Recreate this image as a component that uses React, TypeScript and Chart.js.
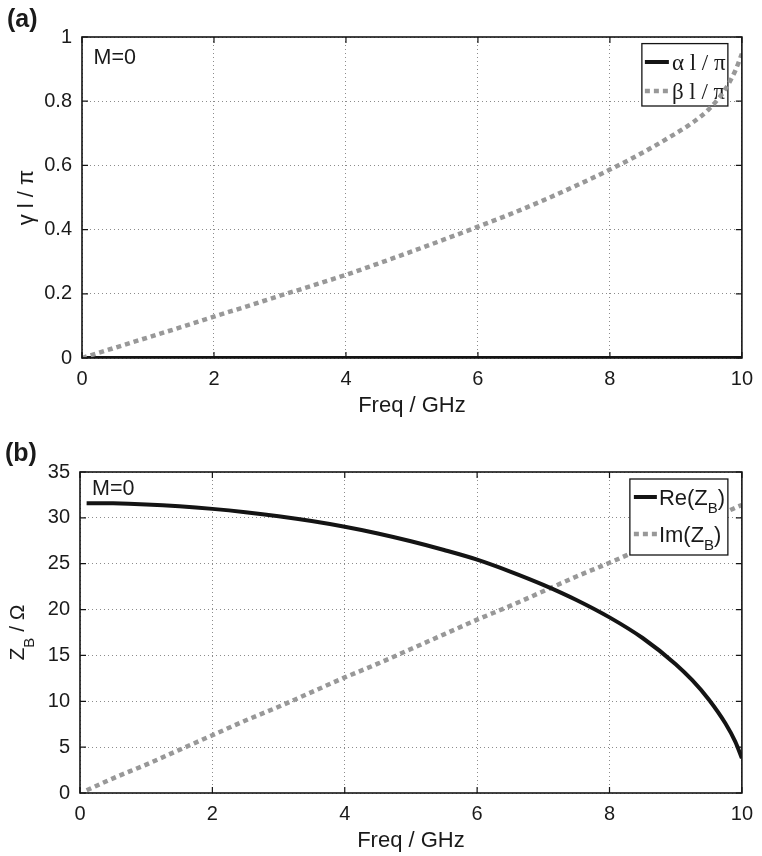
import React, { useEffect, useRef } from "react";
import { Chart, registerables } from "chart.js";
Chart.register(...registerables);

// ---------- data ----------
const freqA = [0, 0.5, 1, 1.5, 2, 2.5, 3, 3.5, 4, 4.5, 5, 5.5, 6, 6.5, 7, 7.5, 8, 8.5, 9, 9.25, 9.5, 9.75, 9.9, 10];
const alphaA = [0, 0, 0, 0, 0, 0, 0, 0, 0, 0, 0, 0, 0, 0, 0, 0, 0, 0, 0, 0, 0, 0, 0, 0];
const betaA = [0, 0.032, 0.064, 0.096, 0.129, 0.161, 0.194, 0.226, 0.259, 0.295, 0.332, 0.37, 0.409, 0.449, 0.492, 0.538, 0.587, 0.64, 0.7, 0.733, 0.775, 0.838, 0.895, 0.948];

const freqB = [0.1, 0.5, 1, 1.5, 2, 2.5, 3, 3.5, 4, 4.5, 5, 5.5, 6, 6.5, 7, 7.5, 8, 8.5, 9, 9.25, 9.5, 9.75, 9.9, 10];
const reZB = [31.6, 31.58, 31.46, 31.26, 30.98, 30.62, 30.18, 29.65, 29.03, 28.3, 27.45, 26.5, 25.45, 24.15, 22.7, 21.05, 19.15, 16.9, 14.05, 12.3, 10.2, 7.6, 5.6, 3.8];
const imZB = [0.3, 1.6, 3.1, 4.7, 6.3, 7.9, 9.4, 11.0, 12.6, 14.1, 15.7, 17.3, 18.9, 20.4, 22.0, 23.6, 25.1, 26.7, 28.3, 29.0, 29.8, 30.6, 31.1, 31.4];

const xTicks = [0, 2, 4, 6, 8, 10];
const yTicksA = [0, 0.2, 0.4, 0.6, 0.8, 1];
const yTicksB = [0, 5, 10, 15, 20, 25, 30, 35];

const SANS = '"Liberation Sans", Arial, Helvetica, sans-serif';
const SERIF = '"Liberation Serif", "Times New Roman", serif';
const BLACK = "#141414";
const GRAY = "#989898";

type Seg = { t: string; sub?: boolean };

function segWidth(ctx: CanvasRenderingContext2D, segs: Seg[], size: number, sub: number, fam: string) {
  let w = 0;
  for (const s of segs) {
    ctx.font = `${s.sub ? sub : size}px ${fam}`;
    w += ctx.measureText(s.t).width;
  }
  return w;
}
function drawSegs(ctx: CanvasRenderingContext2D, segs: Seg[], x: number, y: number, size: number, sub: number, drop: number, fam: string) {
  let cx = x;
  ctx.textBaseline = "alphabetic";
  ctx.textAlign = "left";
  for (const s of segs) {
    ctx.font = `${s.sub ? sub : size}px ${fam}`;
    ctx.fillText(s.t, cx, y + (s.sub ? drop : 0));
    cx += ctx.measureText(s.t).width;
  }
}

interface Decor {
  panel: string;
  panelY: number;
  panelX: number;
  mY: number;
  mX: number;
  yTitle: Seg[];
  yTitleX: number;
  yTitleSize: number;
  yTitleDrop: number;
  xTicksV: number[];
  yTicksV: number[];
  legendAbove: boolean;
  legend: {
    box: [number, number, number, number];
    rows: { y: number; dashed: boolean; segs: Seg[] }[];
    sampleL: number;
    sampleR: number;
    textX: number;
    fam: string;
    size: number;
    sub: number;
    drop: number;
  };
}

function makePlugin(d: Decor) {
  const drawLegend = (chart: any) => {
    const { ctx, chartArea: a } = chart;
    const L = d.legend;
    const bx = a.right - L.box[0];
    const bw = L.box[0] - L.box[1];
    const by = a.top + L.box[2];
    const bh = L.box[3] - L.box[2];
    ctx.save();
    ctx.fillStyle = "#ffffff";
    ctx.fillRect(bx, by, bw, bh);
    ctx.strokeStyle = BLACK;
    ctx.lineWidth = 1.3;
    ctx.strokeRect(bx, by, bw, bh);
    for (const r of L.rows) {
      const ry = a.top + r.y;
      ctx.beginPath();
      ctx.moveTo(a.right - L.sampleL, ry);
      ctx.lineTo(a.right - L.sampleR, ry);
      if (r.dashed) {
        ctx.strokeStyle = GRAY;
        ctx.lineWidth = 4.5;
        ctx.setLineDash([5, 4]);
      } else {
        ctx.strokeStyle = BLACK;
        ctx.lineWidth = 4;
        ctx.setLineDash([]);
      }
      ctx.stroke();
      ctx.setLineDash([]);
      ctx.fillStyle = "#1a1a1a";
      drawSegs(ctx, r.segs, a.right - L.textX, ry + 0.36 * L.size, L.size, L.sub, L.drop, L.fam);
    }
    ctx.restore();
  };
  return {
    id: "decor" + d.panel,
    beforeDatasetsDraw(chart: any) {
      if (!d.legendAbove) drawLegend(chart);
    },
    afterDatasetsDraw(chart: any) {
      if (d.legendAbove) drawLegend(chart);
    },
    afterDraw(chart: any) {
      const { ctx, chartArea: a } = chart;
      const xs = chart.scales.x;
      const ys = chart.scales.y;
      ctx.save();
      ctx.strokeStyle = BLACK;
      ctx.lineWidth = 1.2;
      ctx.beginPath();
      for (const v of d.xTicksV) {
        const px = xs.getPixelForValue(v);
        ctx.moveTo(px, a.bottom);
        ctx.lineTo(px, a.bottom - 6);
        ctx.moveTo(px, a.top);
        ctx.lineTo(px, a.top + 6);
      }
      for (const v of d.yTicksV) {
        const py = ys.getPixelForValue(v);
        ctx.moveTo(a.left, py);
        ctx.lineTo(a.left + 6, py);
        ctx.moveTo(a.right, py);
        ctx.lineTo(a.right - 6, py);
      }
      ctx.stroke();
      ctx.lineWidth = 1.6;
      ctx.strokeRect(a.left, a.top, a.right - a.left, a.bottom - a.top);
      ctx.fillStyle = "#1a1a1a";
      ctx.textAlign = "left";
      ctx.textBaseline = "middle";
      ctx.font = `bold 25px ${SANS}`;
      ctx.fillText(d.panel, d.panelX, d.panelY);
      ctx.font = `21.5px ${SANS}`;
      ctx.fillText("M=0", a.left + d.mX, a.top + d.mY);
      ctx.textAlign = "center";
      ctx.font = `22px ${SANS}`;
      ctx.fillText("Freq / GHz", (a.left + a.right) / 2, a.bottom + 48);
      const cy = (a.top + a.bottom) / 2;
      ctx.translate(d.yTitleX, cy);
      ctx.rotate(-Math.PI / 2);
      const w = segWidth(ctx, d.yTitle, d.yTitleSize, 15, SANS);
      drawSegs(ctx, d.yTitle, -w / 2, 0, d.yTitleSize, 15, d.yTitleDrop, SANS);
      ctx.restore();
    },
  };
}

function makeConfig(
  datasets: any[],
  yMin: number,
  yMax: number,
  yTicksV: number[],
  pad: { right: number; top: number },
  yWidth: number,
  xHeight: number,
  plugin: any
): any {
  const tickFont = { family: SANS, size: 20 };
  return {
    type: "line",
    data: { datasets },
    options: {
      responsive: false,
      animation: false,
      devicePixelRatio: 1,
      events: [],
      layout: { padding: { left: 0, right: pad.right, top: pad.top, bottom: 0 } },
      plugins: { legend: { display: false }, tooltip: { enabled: false }, title: { display: false } },
      scales: {
        x: {
          type: "linear",
          min: 0,
          max: 10,
          afterBuildTicks: (s: any) => {
            s.ticks = xTicks.map((v) => ({ value: v }));
          },
          afterFit: (s: any) => {
            s.height = xHeight;
          },
          grid: { color: "rgba(0,0,0,0.45)", lineWidth: 1, drawTicks: false },
          border: { display: false, dash: [1, 3] },
          ticks: {
            padding: 9,
            color: "#1a1a1a",
            font: tickFont,
            maxRotation: 0,
            autoSkip: false,
            callback: (v: any) => String(v),
          },
        },
        y: {
          type: "linear",
          min: yMin,
          max: yMax,
          afterBuildTicks: (s: any) => {
            s.ticks = yTicksV.map((v) => ({ value: v }));
          },
          afterFit: (s: any) => {
            s.width = yWidth;
          },
          grid: { color: "rgba(0,0,0,0.45)", lineWidth: 1, drawTicks: false },
          border: { display: false, dash: [1, 3] },
          ticks: {
            padding: 10,
            color: "#1a1a1a",
            font: tickFont,
            autoSkip: false,
            callback: (v: any) => String(v),
          },
        },
      },
    },
    plugins: [plugin],
  };
}

export default function App() {
  const refA = useRef<HTMLCanvasElement>(null);
  const refB = useRef<HTMLCanvasElement>(null);

  useEffect(() => {
    const lineStyle = (color: string, dashed: boolean, order: number) => ({
      borderColor: color,
      backgroundColor: color,
      borderWidth: dashed ? 4.5 : 4,
      borderDash: dashed ? [5, 4] : [],
      borderCapStyle: "butt",
      pointRadius: 0,
      fill: false,
      cubicInterpolationMode: "monotone",
      order,
    });

    const dsA = [
      { label: "alpha", data: freqA.map((x, i) => ({ x, y: alphaA[i] })), ...lineStyle(BLACK, false, 1) },
      { label: "beta", data: freqA.map((x, i) => ({ x, y: betaA[i] })), ...lineStyle(GRAY, true, 0) },
    ];
    const dsB = [
      { label: "Re", data: freqB.map((x, i) => ({ x, y: reZB[i] })), ...lineStyle(BLACK, false, 0) },
      { label: "Im", data: freqB.map((x, i) => ({ x, y: imZB[i] })), ...lineStyle(GRAY, true, 1) },
    ];

    const plugA = makePlugin({
      panel: "(a)",
      panelX: 7,
      panelY: 20,
      mX: 11.5,
      mY: 21,
      yTitle: [{ t: "γ l / π" }],
      yTitleX: 33,
      yTitleSize: 22,
      yTitleDrop: 0,
      xTicksV: xTicks,
      yTicksV: yTicksA,
      legendAbove: false,
      legend: {
        box: [100, 14, 6.6, 69],
        rows: [
          { y: 25, dashed: false, segs: [{ t: "α l / π" }] },
          { y: 54, dashed: true, segs: [{ t: "β l / π" }] },
        ],
        sampleL: 97,
        sampleR: 73,
        textX: 70,
        fam: SERIF,
        size: 23,
        sub: 15,
        drop: 8,
      },
    });
    const plugB = makePlugin({
      panel: "(b)",
      panelX: 5,
      panelY: 26,
      mX: 12,
      mY: 17,
      yTitle: [{ t: "Z" }, { t: "B", sub: true }, { t: " / Ω" }],
      yTitleX: 24,
      yTitleSize: 21,
      yTitleDrop: 10,
      xTicksV: xTicks,
      yTicksV: yTicksB,
      legendAbove: true,
      legend: {
        box: [112, 14, 7, 83],
        rows: [
          { y: 25, dashed: false, segs: [{ t: "Re(Z" }, { t: "B", sub: true }, { t: ")" }] },
          { y: 62, dashed: true, segs: [{ t: "Im(Z" }, { t: "B", sub: true }, { t: ")" }] },
        ],
        sampleL: 108,
        sampleR: 85,
        textX: 83,
        fam: SANS,
        size: 22,
        sub: 15,
        drop: 8,
      },
    });

    const cA = new Chart(refA.current as HTMLCanvasElement, makeConfig(dsA, 0, 1, yTicksA, { right: 15, top: 37 }, 82, 70, plugA));
    const cB = new Chart(refB.current as HTMLCanvasElement, makeConfig(dsB, 0, 35, yTicksB, { right: 19, top: 44 }, 80, 63, plugB));
    return () => {
      cA.destroy();
      cB.destroy();
    };
  }, []);

  return (
    <div style={{ position: "absolute", left: 0, top: 0, width: 762, height: 856, background: "#ffffff" }}>
      <canvas ref={refA} width={762} height={428} style={{ display: "block", width: 762, height: 428 }} />
      <canvas ref={refB} width={762} height={428} style={{ display: "block", width: 762, height: 428 }} />
    </div>
  );
}
